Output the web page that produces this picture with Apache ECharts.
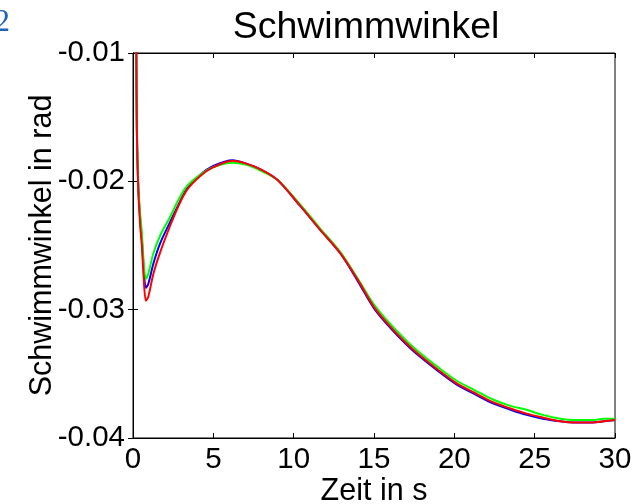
<!DOCTYPE html>
<html><head><meta charset="utf-8">
<script src="https://cdn.jsdelivr.net/npm/echarts@6/dist/echarts.min.js"></script>
<style>html,body{margin:0;padding:0;background:#fff}#c{width:634px;height:504px}</style>
</head><body><div id="c"></div>
<script>
const time = [0.2,0.24,0.33,0.45,0.55,0.65,0.8,0.95,1.27,1.7,2.3,2.8,3.34,4.17,5.0,6.2,7.0,8.0,9.0,10.4,11.6,12.9,14.0,15.0,16.0,17.0,17.7,19.0,20.1,21.3,22.4,23.5,24.5,25.5,26.6,27.5,28.6,29.3,30.0];
const red   = [-0.008,-0.016,-0.0207,-0.0235,-0.0250,-0.0272,-0.0293,-0.0290,-0.0272,-0.0255,-0.0235,-0.0220,-0.0207,-0.0196,-0.0189,-0.0184,-0.0186,-0.0191,-0.0199,-0.0219,-0.0237,-0.0256,-0.0277,-0.0298,-0.0313,-0.0326,-0.0334,-0.0347,-0.0357,-0.0365,-0.0372,-0.0377,-0.0381,-0.0384,-0.0387,-0.0388,-0.0388,-0.0387,-0.0386];
const blue  = [-0.008,-0.016,-0.0205,-0.0230,-0.0245,-0.0265,-0.0283,-0.0280,-0.0264,-0.0248,-0.0232,-0.0219,-0.0206,-0.0195,-0.0188,-0.01835,-0.0186,-0.0191,-0.0199,-0.0219,-0.0237,-0.0256,-0.0278,-0.0299,-0.0314,-0.0327,-0.0335,-0.0348,-0.0358,-0.0366,-0.0373,-0.0378,-0.0382,-0.0385,-0.0387,-0.0388,-0.0388,-0.0387,-0.0386];
const green = [-0.008,-0.016,-0.0203,-0.0226,-0.0240,-0.0260,-0.0276,-0.0272,-0.0256,-0.0242,-0.0228,-0.0215,-0.0204,-0.0195,-0.0189,-0.01855,-0.0187,-0.0192,-0.0199,-0.0218,-0.0236,-0.0255,-0.0276,-0.0296,-0.0311,-0.0324,-0.0332,-0.0345,-0.0355,-0.0363,-0.0370,-0.0375,-0.0378,-0.0382,-0.0385,-0.0386,-0.0386,-0.0385,-0.0385];
const xTicks = [0,5,10,15,20,25,30];
const yTicks = [-0.04,-0.03,-0.02,-0.01];

const pairs = a => a.map((v,i)=>[time[i], v]);
const chart = echarts.init(document.getElementById('c'), null, {renderer:'canvas'});
const font = 'Liberation Sans, Arial, sans-serif';
const tickStyle = {show:true, inside:true, length:5, lineStyle:{color:'#000', width:1}};
chart.setOption({
  animation:false,
  backgroundColor:'#fff',
  title:{text:'Schwimmwinkel', left:361, top:4, textAlign:'center',
    textStyle:{fontFamily:font, fontSize:37.5, fontWeight:'normal', color:'#000'}},
  graphic:[{type:'text', left:-6, top:7, style:{text:'2', fontFamily:'Liberation Serif, serif', fontSize:32, fill:'#1f63b8'}}],
  grid:{left:133, right:19, top:53, bottom:66, outerBoundsMode:'none', containLabel:false,
    show:true, borderColor:'#000', borderWidth:1, backgroundColor:'#fff'},
  xAxis:[{type:'value', min:0, max:30, interval:5, position:'bottom',
    name:'Zeit in s', nameLocation:'middle', nameGap:38, nameMoveOverlap:false,
    nameTextStyle:{fontFamily:font, fontSize:30.5, color:'#000'},
    axisLine:{show:true, lineStyle:{color:'#000'}}, axisTick:tickStyle, splitLine:{show:false},
    axisLabel:{fontFamily:font, fontSize:29.5, color:'#000', margin:7, customValues:xTicks}},
   {type:'value', min:0, max:30, interval:5, position:'top',
    axisLine:{show:true, lineStyle:{color:'#000'}}, axisTick:tickStyle, splitLine:{show:false}, axisLabel:{show:false}}],
  yAxis:[{type:'value', min:-0.04, max:-0.01, interval:0.01, position:'left',
    name:'Schwimmwinkel in rad', nameLocation:'middle', nameGap:75, nameMoveOverlap:false,
    nameTextStyle:{fontFamily:font, fontSize:30.5, color:'#000'},
    axisLine:{show:true, lineStyle:{color:'#000'}}, axisTick:tickStyle, splitLine:{show:false},
    axisLabel:{fontFamily:font, fontSize:29.5, color:'#000', margin:8, formatter:v=>v.toFixed(2)}},
   {type:'value', min:-0.04, max:-0.01, interval:0.01, position:'right',
    axisLine:{show:true, lineStyle:{color:'#000'}}, axisTick:tickStyle, splitLine:{show:false}, axisLabel:{show:false}}],
  series:[
    {type:'line', name:'blue', data:pairs(blue), showSymbol:false, smooth:0.3, clip:true, lineStyle:{color:'#0000ff', width:2}},
    {type:'line', name:'green', data:pairs(green), showSymbol:false, smooth:0.3, clip:true, lineStyle:{color:'#00ff00', width:2}},
    {type:'line', name:'red', data:pairs(red), showSymbol:false, smooth:0.3, clip:true, lineStyle:{color:'#ff0000', width:2}}
  ]
});
</script></body></html>
